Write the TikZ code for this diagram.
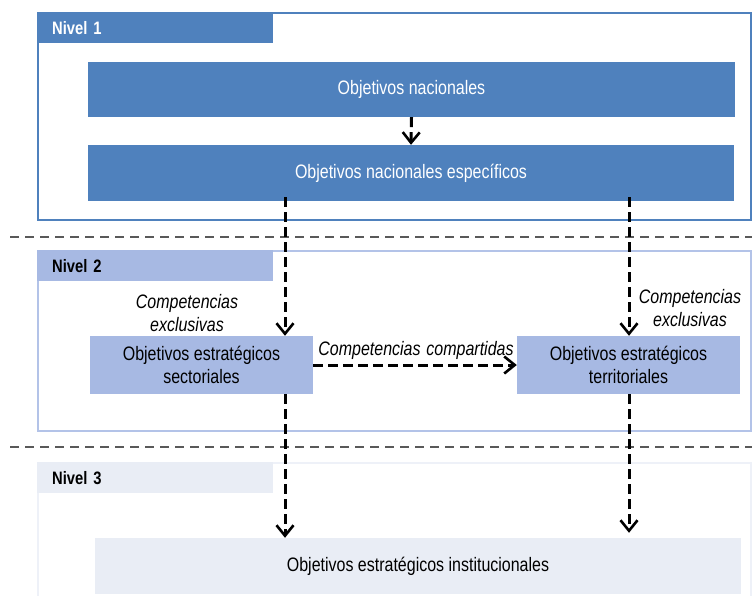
\documentclass[tikz,border=0pt]{standalone}
\usepackage{fontspec}
\setmainfont{Liberation Sans}[FakeStretch=0.82]
\usetikzlibrary{arrows.meta}
\definecolor{blueA}{HTML}{4F81BD}
\definecolor{blueB}{HTML}{A7B9E3}
\definecolor{blueBline}{HTML}{B3C3E8}
\definecolor{blueC}{HTML}{E9EDF5}
\definecolor{blueCline}{HTML}{EEF1F8}
\definecolor{sepgray}{HTML}{595959}
\tikzset{
  x=1pt, y=-1pt,
  every node/.style={font=\fontsize{19.5}{23}\selectfont, inner sep=0pt},
  frame/.style={draw, line width=2pt, fill=white, anchor=north west},
  header/.style={anchor=north west, minimum height=31pt, inner xsep=15pt,
    text width=206pt, align=left, font=\fontsize{18}{20}\selectfont\bfseries},
  objbox/.style={minimum height=56pt, align=center},
  lvlone/.style={objbox, fill=blueA, text=white},
  lvltwo/.style={objbox, fill=blueB, text=black},
  lvlthree/.style={objbox, fill=blueC, text=black},
  note/.style={font=\fontsize{19.5}{23}\selectfont\itshape, align=center},
  flow/.style={draw=black, line width=3pt, dash pattern=on 10pt off 5pt,
    -{Straight Barb[length=10.5pt, width=17pt, line width=2.6pt]}},
  sep/.style={draw=sepgray, line width=1.5pt, dash pattern=on 9pt off 6pt},
}
\begin{document}
\begin{tikzpicture}
\useasboundingbox (0,0) rectangle (752,596);
\clip (0,0) rectangle (752,596);

% level frames
\node[frame, draw=blueA, minimum width=713pt, minimum height=207pt] (f1) at (37,12) {};
\node[frame, draw=blueBline, minimum width=713pt, minimum height=180pt] (f2) at (37,250) {};
\node[frame, draw=blueCline, minimum width=713pt, minimum height=150pt] (f3) at (37,462) {};

% level headers
\node[header, fill=blueA, text=white] (h1) at (37,12) {Nivel 1};
\node[header, fill=blueB, text=black] (h2) at (37,250) {Nivel 2};
\node[header, fill=blueC, text=black] (h3) at (37,462) {Nivel 3};

% level separators
\coordinate (s1a) at (10,237); \coordinate (s1b) at (752,237);
\coordinate (s2a) at (10,447); \coordinate (s2b) at (752,447);
\draw[sep] (s1a) -- (s1b);
\draw[sep] (s2a) -- (s2b);

% objective boxes
\node[lvlone, minimum width=647pt, minimum height=55pt] (nat) at (411.5,89.5) {Objetivos nacionales};
\node[lvlone, minimum width=646pt] (esp) at (411,173) {Objetivos nacionales específicos};
\node[lvltwo, minimum width=223pt, minimum height=58pt] (sect) at (201.5,365) {Objetivos estratégicos\\sectoriales};
\node[lvltwo, minimum width=223pt, minimum height=58pt] (terr) at (628.5,365) {Objetivos estratégicos\\territoriales};
\node[lvlthree, minimum width=646pt] (inst) at (418,566) {Objetivos estratégicos institucionales};

% arrow columns
\coordinate (xL) at (285,0);
\coordinate (xR) at (629,0);

% connectors
\draw[flow] (nat.south) -- (esp.north);
\draw[flow] ([yshift=4pt]esp.south -| xL) -- (sect.north -| xL);
\draw[flow] ([yshift=4pt]esp.south -| xR) -- (terr.north -| xR);
\draw[flow] (sect.east) -- (terr.west);
\draw[flow] (sect.south -| xL) -- (inst.north -| xL);
\draw[flow, shorten >=5pt] (terr.south -| xR) -- (inst.north -| xR);

% connector labels
\node[note] (cl) at (187,313) {Competencias\\exclusivas};
\node[note] (cr) at (690,308) {Competencias\\exclusivas};
\node[note] (cc) at (416,350) {Competencias\hspace{0.3em}compartidas};
\end{tikzpicture}
\end{document}
